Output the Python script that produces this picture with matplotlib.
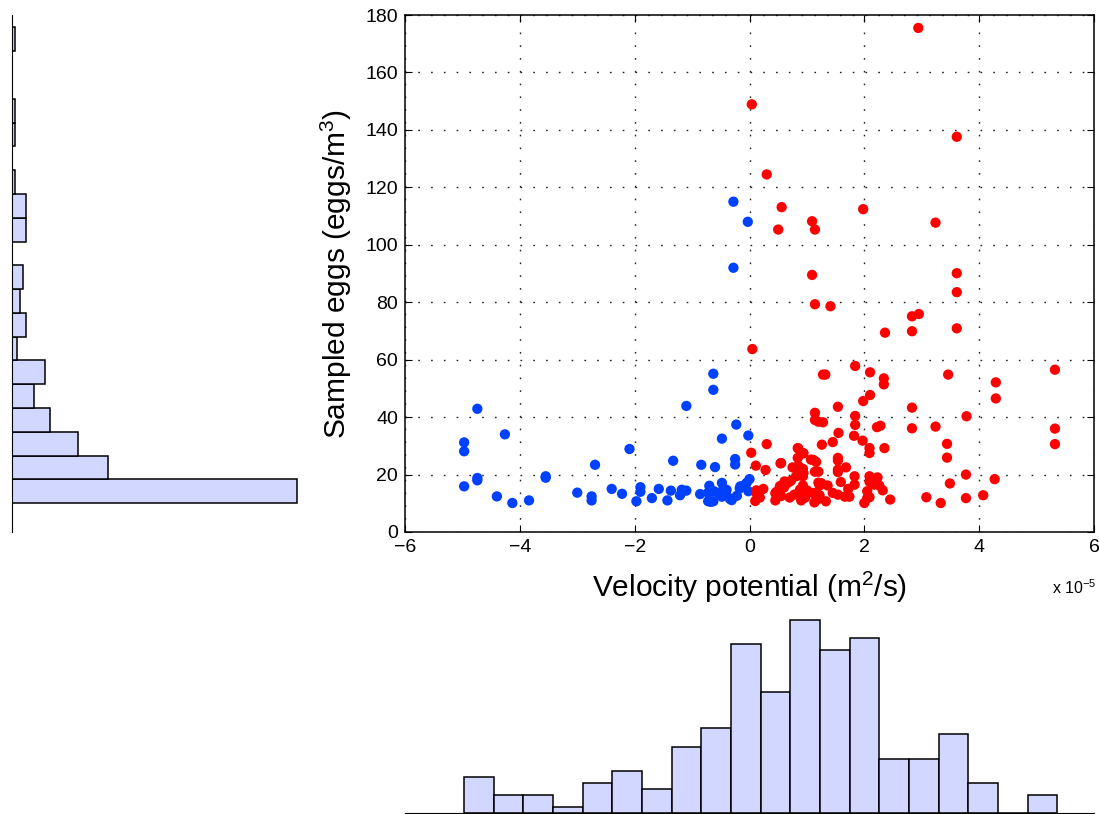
import numpy as np
import matplotlib.pyplot as plt

plt.rcParams['font.family'] = ['Liberation Sans', 'DejaVu Sans']
plt.rcParams['mathtext.fontset'] = 'custom'
plt.rcParams['mathtext.rm'] = 'Liberation Sans'
plt.rcParams['mathtext.it'] = 'Liberation Sans:italic'

# velocity potential in units of 1e-5 m2/s, sampled eggs in eggs/m3
blue_x = [-4.97, -4.97, -4.97, -4.74, -4.74, -4.74, -4.40, -4.26, -4.13, -3.84,
          -3.55, -3.55, -3.00, -2.75, -2.75, -2.69, -2.40, -2.22, -2.09, -1.97,
          -1.90, -1.90, -1.70, -1.58, -1.43, -1.37, -1.33, -1.21, -1.18, -1.10,
          -1.10, -0.86, -0.84, -0.70, -0.72, -0.63, -0.63, -0.63, -0.60, -0.54,
          -0.48, -0.48, -0.40, -0.34, -0.25, -0.25, -0.23, -0.22, -0.16, -0.02,
          0.00, -0.02, -0.05, -0.08, -0.17, -0.31, -0.40, -0.48, -0.67, -0.62,
          -0.72, -0.46, -0.28, -0.03, -0.28]
blue_y = [31.2, 28.1, 15.9, 42.9, 18.8, 18.0, 12.4, 34.0, 10.1, 11.0,
          19.4, 18.9, 13.7, 12.4, 11.0, 23.4, 15.0, 13.3, 28.9, 10.7,
          15.6, 14.0, 11.8, 15.0, 11.0, 14.4, 24.8, 12.8, 14.7, 14.4,
          43.9, 13.2, 23.4, 16.1, 10.7, 10.7, 55.1, 49.5, 22.6, 13.6,
          17.1, 32.5, 14.7, 11.5, 25.4, 23.5, 37.4, 12.6, 15.9, 33.6,
          18.4, 14.2, 17.1, 16.4, 15.2, 11.1, 12.9, 12.3, 10.5, 14.2,
          13.7, 14.7, 115.0, 108.0, 92.0]

red_x = [0.04, 0.30, 0.56, 0.50, 2.94, 3.61, 1.09, 1.14, 1.98, 3.24,
         1.09, 3.61, 3.61, 1.14, 1.41, 2.83, 2.95, 2.36, 2.83, 3.61,
         0.05, 1.84, 1.28, 1.32, 2.10, 2.34, 2.34, 3.46, 4.29, 4.29,
         5.32, 2.10, 1.98, 1.54, 2.83, 1.14, 1.14, 1.28, 1.84, 1.84,
         3.78, 2.22, 2.28, 2.83, 3.24, 5.32, 5.32, 1.82, 1.55, 1.45,
         1.26, 1.97, 2.09, 2.09, 2.35, 3.44, 3.44, 3.77, 4.27, 3.49,
         4.07, 3.77, 3.33, 3.08, 2.45, 2.00, 2.09, 0.84, 0.84, 0.93,
         1.07, 1.16, 0.55, 0.75, 0.84, 0.93, 0.81, 0.93, 0.61, 0.61,
         0.93, 1.13, 1.33, 1.25, 1.22, 1.36, 1.54, 1.54, 1.54, 1.54,
         1.68, 1.59, 1.83, 1.83, 1.45, 1.54, 1.66, 1.74, 1.72, 2.09,
         2.09, 2.23, 2.17, 2.26, 2.32, 2.05, 2.05, 1.10, 1.22, 0.30,
         0.03, 0.11, 0.28, 0.54, 0.85, 0.94, 0.85, 0.88, 0.94, 0.72,
         0.66, 0.53, 0.60, 0.12, 0.18, 0.10, 0.45, 0.45, 0.55, 0.70,
         0.85, 0.90, 0.97, 1.20, 1.11, 1.14, 1.20, 1.20, 1.16, 1.20,
         0.47, 0.88, 0.12, 0.24, 0.78, 1.00]
red_y = [148.9, 124.5, 113.1, 105.3, 175.5, 137.6, 108.2, 105.3, 112.4, 107.7,
         89.5, 90.1, 83.5, 79.3, 78.6, 75.1, 75.9, 69.4, 69.9, 70.9,
         63.7, 57.8, 54.8, 54.8, 55.6, 53.5, 51.4, 54.8, 52.1, 46.5,
         56.5, 47.7, 45.6, 43.6, 43.3, 41.5, 39.0, 38.2, 40.4, 37.3,
         40.3, 36.5, 37.0, 36.1, 36.7, 36.0, 30.6, 33.5, 34.5, 31.3,
         30.4, 31.8, 29.2, 27.5, 29.2, 30.7, 25.9, 20.0, 18.4, 16.9,
         12.8, 11.8, 10.1, 12.1, 11.3, 10.1, 12.1, 29.2, 25.8, 27.5,
         25.2, 24.4, 24.0, 22.5, 22.5, 22.0, 19.4, 19.4, 17.6, 16.5,
         16.2, 10.3, 10.7, 17.0, 16.2, 16.2, 25.8, 24.9, 21.7, 20.9,
         22.5, 17.4, 19.4, 16.5, 13.6, 13.0, 12.3, 12.3, 15.0, 19.4,
         17.5, 19.0, 16.5, 16.2, 14.5, 14.2, 11.8, 13.6, 12.8, 30.6,
         27.6, 23.1, 21.6, 23.9, 29.1, 27.4, 23.0, 21.5, 20.5, 17.8,
         17.0, 16.0, 15.5, 13.5, 12.0, 10.8, 13.5, 11.0, 12.5, 12.0,
         13.5, 11.0, 12.0, 38.4, 25.1, 21.0, 21.0, 17.2, 13.5, 11.5,
         14.0, 14.8, 14.5, 15.0, 13.0, 14.5]

# marginal histograms (20 bins each)
vel_bin_range = (-4.97, 5.36)
vel_counts = [6, 3, 3, 1, 5, 7, 4, 11, 14, 28, 20, 32, 27, 29, 9, 9, 13, 5, 0, 3]
egg_bin_range = (10.0, 175.7)
egg_counts = [104, 35, 24, 14, 8, 12, 2, 5, 3, 4, 0, 5, 5, 1, 0, 1, 1, 0, 0, 1]

bar_face = '#d2d7ff'

fig = plt.figure(figsize=(10.99, 8.14), dpi=100)
W, H = 1099.0, 814.0

def frame(left, top, right, bottom):
    return [left / W, 1 - bottom / H, (right - left) / W, (bottom - top) / H]

ax = fig.add_axes(frame(405, 15, 1094, 532))
ax.scatter(blue_x, blue_y, s=55, color='#0040ff', edgecolors='none', zorder=3)
ax.scatter(red_x, red_y, s=55, color='#ff0000', edgecolors='none', zorder=3)
ax.set_xlim(-6, 6)
ax.set_ylim(0, 180)
ax.set_xticks(np.arange(-6, 7, 2))
ax.set_yticks(np.arange(0, 181, 20))
ax.grid(True, color='#222222', linestyle=(0, (1.2, 8)), linewidth=1.0)
ax.set_axisbelow(True)
ax.tick_params(direction='in', top=True, right=True, length=5, labelsize=14, pad=5)
for s in ax.spines.values():
    s.set_linewidth(1.1)
ax.set_xlabel(r'Velocity potential (m$^2$/s)', fontsize=21.5, labelpad=10)
ax.set_ylabel(r'Sampled eggs (eggs/m$^3$)', fontsize=21.5, labelpad=8)
fig.text(1097 / W, 1 - 594 / H, r'x 10$^{-5}$', fontsize=11.5, ha='right', va='baseline')

# left histogram (horizontal)
axl = fig.add_axes(frame(12, 15, 300, 532))
e = np.linspace(egg_bin_range[0], egg_bin_range[1], len(egg_counts) + 1)
axl.barh((e[:-1] + e[1:]) / 2, egg_counts, height=e[1] - e[0],
         color=bar_face, edgecolor='black', linewidth=1.1)
axl.set_ylim(0, 180)
axl.set_xlim(0, 105)
axl.set_xticks([])
axl.set_yticks([])
for k in ['top', 'right', 'bottom']:
    axl.spines[k].set_visible(False)

# bottom histogram
axb = fig.add_axes(frame(405, 613, 1094, 813))
e = np.linspace(vel_bin_range[0], vel_bin_range[1], len(vel_counts) + 1)
axb.bar((e[:-1] + e[1:]) / 2, vel_counts, width=e[1] - e[0],
        color=bar_face, edgecolor='black', linewidth=1.1)
axb.set_xlim(-6, 6)
axb.set_ylim(0, 33.1)
axb.set_xticks([])
axb.set_yticks([])
for k in ['top', 'right', 'left']:
    axb.spines[k].set_visible(False)

fig.savefig('out.png', dpi=100)
